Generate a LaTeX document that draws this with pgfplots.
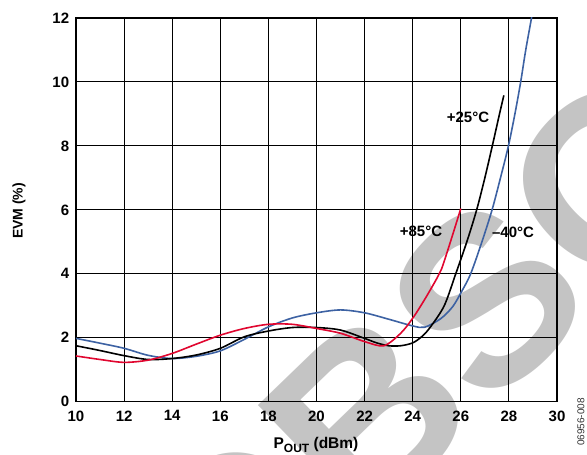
\documentclass[border=0pt]{standalone}
\usepackage{fontspec}
\setmainfont{Liberation Sans}
\usepackage{pgfplots}
\pgfplotsset{compat=1.18}
\definecolor{cblue}{HTML}{3D62A3}
\definecolor{cred}{HTML}{E0062F}
\definecolor{wm}{gray}{0.77}
\begin{document}
\begin{tikzpicture}
\useasboundingbox (0pt,0pt) rectangle (587pt,455pt);
\node[rotate=44, text=wm, inner sep=0pt, font=\fontsize{240}{240}\selectfont\bfseries] at (645pt,308pt) {OBSOLETE};
\begin{axis}[
  at={(76pt,53.3pt)}, anchor=south west,
  scale only axis, width=481pt, height=383.7pt,
  xmin=10, xmax=30, ymin=0, ymax=12,
  xtick={10,12,...,30}, ytick={0,2,...,12},
  grid=major, major grid style={black, line width=0.9pt},
  axis line style={line width=1.6pt},
  tick style={draw=none},
  ticklabel style={font=\fontsize{15}{15}\selectfont\bfseries},
  /pgf/number format/assume math mode=true,
  yticklabel style={xshift=-3.3pt},
  xticklabel style={yshift=-5.3pt},
]
\addplot[cblue, line width=1.6pt, smooth] coordinates {
(10,1.98) (11,1.83) (12,1.67) (13,1.45) (14,1.35) (15,1.42) (16,1.59) (17,1.95)
(18,2.34) (19,2.62) (20,2.78) (21,2.87) (22,2.78) (23,2.58) (24,2.37) (24.5,2.33)
(25.17,2.6) (25.66,2.97) (26,3.4) (26.41,4) (26.9,5.05) (27.3,6) (27.65,7) (27.98,8)
(28.25,9) (28.49,10) (28.7,11) (28.94,12) (29.1,12.7)};
\addplot[black, line width=1.6pt, smooth] coordinates {
(10,1.75) (11,1.6) (12,1.44) (13,1.32) (14,1.35) (15,1.46) (16,1.67) (17,2.03)
(18,2.21) (19,2.32) (20,2.32) (21,2.24) (22,1.98) (22.5,1.84) (23,1.75) (23.5,1.75)
(24,1.84) (24.4,2.05) (24.74,2.34) (25.31,3.0) (25.79,4) (26.25,5) (26.66,6)
(27.0,7) (27.31,8) (27.61,9) (27.79,9.58)};
\addplot[cred, line width=1.6pt, smooth] coordinates {
(10,1.43) (11,1.32) (12,1.23) (13,1.30) (14,1.51) (15,1.80) (16,2.08) (17,2.29)
(18,2.42) (19,2.42) (20,2.29) (21,2.14) (22,1.88) (22.8,1.75) (23.5,2.14) (24,2.61)
(24.5,3.2) (25.0,3.85) (25.2,4.15) (25.59,5.05) (26,6.04)};
\end{axis}
\node[font=\fontsize{15}{15}\selectfont\bfseries] at (468pt,338pt) {+25°C};
\node[font=\fontsize{15}{15}\selectfont\bfseries] at (421pt,224pt) {+85°C};
\node[font=\fontsize{15}{15}\selectfont\bfseries] at (513pt,223pt) {–40°C};
\node[font=\fontsize{14}{14}\selectfont\bfseries, rotate=90] at (19pt,244pt) {EVM (\%)};
\node[font=\fontsize{15.5}{15.5}\selectfont\bfseries, anchor=base] at (316pt,6pt) {P\raisebox{-3.5pt}{\fontsize{12}{12}\selectfont OUT} (dBm)};
\node[font=\fontsize{10}{10}\selectfont, rotate=90, text=black!80] at (581pt,33pt) {06956-008};
\end{tikzpicture}
\end{document}
